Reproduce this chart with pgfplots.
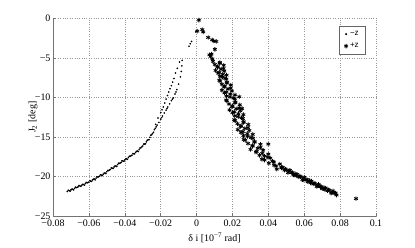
\documentclass[border=0pt]{standalone}
\usepackage{pgfplots}
\pgfplotsset{compat=1.18}
\usepackage{fontspec}
\setmainfont{Liberation Serif}
\newfontfamily\legfont{Liberation Sans}
\begin{document}
\begin{tikzpicture}
\begin{axis}[
  scale only axis,
  width=323bp, height=197.5bp,
  xmin=-0.08, xmax=0.1, ymin=-25, ymax=0,
  axis x line*=bottom, axis y line*=left,
  axis line style={black!55, line width=0.5pt},
  x axis line style={-}, y axis line style={-},
  tick style={black!55, line width=0.5pt},
  tick align=inside, major tick length=3bp,
  xtick={-0.08,-0.06,-0.04,-0.02,0,0.02,0.04,0.06,0.08,0.1},
  xticklabels={−0.08,−0.06,−0.04,−0.02,0,0.02,0.04,0.06,0.08,0.1},
  ytick={-25,-20,-15,-10,-5,0},
  yticklabels={−25,−20,−15,−10,−5,0},
  tick label style={font=\normalsize, black},
  yticklabel style={xshift=1bp},
  grid=major,
  major grid style={dotted, black!40, line width=0.5pt},
  every axis y label/.style={at={(axis description cs:-0.062,0.5)},rotate=90,anchor=center},
  every axis x label/.style={at={(axis description cs:0.5,-0.111)},anchor=center},
  ylabel={J\textsubscript{2} [deg]},
  xlabel={δ i [10\textsuperscript{−7} rad]},
  legend style={at={(rel axis cs:0.969,0.962)}, anchor=north east, draw=black!60, line width=0.7pt,
    font=\legfont\footnotesize, inner xsep=5bp, inner ysep=3bp, row sep=2bp, fill=white},
  legend cell align=left,
  legend image code/.code={\draw[#1] plot coordinates {(0.3cm,0cm)};},
  clip=false,
]
\addplot[only marks, mark=*, mark size=0.6pt, black] table {
x y
-0.072 -21.90
-0.071 -21.80
-0.070 -21.70
-0.069 -21.60
-0.068 -21.50
-0.067 -21.40
-0.066 -21.30
-0.065 -21.20
-0.064 -21.10
-0.063 -21.00
-0.062 -20.90
-0.061 -20.80
-0.060 -20.70
-0.059 -20.58
-0.058 -20.45
-0.057 -20.33
-0.056 -20.20
-0.055 -20.08
-0.054 -19.95
-0.053 -19.83
-0.052 -19.70
-0.051 -19.55
-0.050 -19.40
-0.049 -19.25
-0.048 -19.10
-0.047 -18.95
-0.046 -18.80
-0.045 -18.65
-0.044 -18.50
-0.043 -18.35
-0.042 -18.20
-0.041 -18.05
-0.040 -17.90
-0.039 -17.75
-0.038 -17.60
-0.037 -17.45
-0.036 -17.30
-0.035 -17.13
-0.034 -16.95
-0.033 -16.78
-0.032 -16.60
-0.031 -16.37
-0.030 -16.13
-0.029 -15.90
-0.028 -15.62
-0.027 -15.34
-0.026 -15.04
-0.025 -14.72
-0.024 -14.40
-0.023 -13.90
-0.022 -13.50
-0.021 -13.15
-0.020 -12.75
-0.019 -12.35
-0.018 -11.95
-0.017 -11.60
-0.016 -11.20
-0.015 -10.80
-0.014 -10.40
-0.013 -10.05
-0.012 -9.55
-0.011 -9.00
-0.010 -8.30
-0.009 -7.40
-0.0085 -6.70
-0.0082 -6.00
-0.0080 -5.30
-0.0225 -13.70
-0.0195 -12.55
-0.0165 -11.40
-0.0135 -10.20
-0.0115 -9.30
-0.0715 -21.73
-0.0705 -21.85
-0.0695 -21.60
-0.0685 -21.70
-0.0675 -21.35
-0.0665 -21.35
-0.0655 -21.13
-0.0645 -21.25
-0.0635 -21.00
-0.0625 -21.10
-0.0615 -20.75
-0.0605 -20.75
-0.0595 -20.52
-0.0585 -20.62
-0.0575 -20.34
-0.0565 -20.42
-0.0555 -20.04
-0.0545 -20.02
-0.0535 -19.77
-0.0525 -19.87
-0.0515 -19.58
-0.0505 -19.63
-0.0495 -19.23
-0.0485 -19.18
-0.0475 -18.91
-0.0465 -18.98
-0.0455 -18.68
-0.0445 -18.73
-0.0435 -18.33
-0.0425 -18.28
-0.0415 -18.01
-0.0405 -18.08
-0.0395 -17.78
-0.0385 -17.83
-0.0375 -17.43
-0.0365 -17.38
-0.0355 -17.10
-0.0345 -17.14
-0.0335 -16.82
-0.0325 -16.84
-0.0315 -16.39
-0.0305 -16.25
-0.0295 -15.90
-0.0285 -15.86
-0.0275 -15.43
-0.0265 -15.34
-0.0255 -14.78
-0.0245 -14.56
-0.0235 -14.08
-0.0228 -13.40
-0.0215 -12.60
-0.0200 -11.90
-0.0192 -11.55
-0.0185 -11.20
-0.0177 -10.70
-0.0170 -10.20
-0.0162 -9.75
-0.0155 -9.30
-0.0148 -8.90
-0.0140 -8.50
-0.0133 -8.05
-0.0126 -7.60
-0.0117 -6.90
-0.0107 -6.30
-0.0095 -5.50
-0.0042 -3.50
-0.0035 -3.20
-0.0028 -2.90
-0.0004 -1.70
};
\addlegendentry{−z}
\addplot[only marks, mark=asterisk, mark size=2.2pt, line width=0.8pt, black] table {
x y
0.0013 -0.20
0.0004 -1.60
0.0032 -1.40
0.0037 -1.70
0.0065 -2.40
0.0087 -2.70
0.0096 -2.85
0.0110 -2.90
0.0102 -3.90
0.0072 -4.60
0.0078 -4.80
0.0083 -4.50
0.0088 -5.10
0.0091 -5.42
0.0130 -5.57
0.0129 -5.67
0.0102 -5.82
0.0151 -5.92
0.0118 -6.07
0.0117 -6.17
0.0150 -6.32
0.0136 -6.42
0.0106 -6.57
0.0154 -6.67
0.0127 -6.82
0.0120 -6.92
0.0146 -7.07
0.0167 -7.17
0.0130 -7.32
0.0144 -7.42
0.0159 -7.57
0.0166 -7.67
0.0127 -7.82
0.0131 -7.92
0.0170 -8.07
0.0168 -8.17
0.0141 -8.32
0.0191 -8.42
0.0157 -8.57
0.0154 -8.67
0.0190 -8.82
0.0175 -8.92
0.0141 -9.07
0.0197 -9.17
0.0166 -9.32
0.0156 -9.42
0.0188 -9.57
0.0214 -9.67
0.0167 -9.82
0.0186 -9.92
0.0205 -10.07
0.0213 -10.17
0.0165 -10.32
0.0169 -10.42
0.0217 -10.57
0.0214 -10.67
0.0181 -10.82
0.0241 -10.92
0.0201 -11.07
0.0197 -11.17
0.0238 -11.32
0.0221 -11.42
0.0184 -11.57
0.0243 -11.67
0.0210 -11.82
0.0200 -11.92
0.0233 -12.07
0.0261 -12.17
0.0213 -12.32
0.0232 -12.42
0.0251 -12.57
0.0258 -12.67
0.0210 -12.82
0.0215 -12.92
0.0263 -13.07
0.0261 -13.17
0.0228 -13.32
0.0288 -13.42
0.0248 -13.57
0.0245 -13.67
0.0287 -13.82
0.0269 -13.92
0.0230 -14.07
0.0294 -14.17
0.0258 -14.32
0.0247 -14.42
0.0283 -14.57
0.0313 -14.67
0.0261 -14.82
0.0284 -14.92
0.0304 -15.07
0.0315 -15.17
0.0263 -15.32
0.0271 -15.42
0.0323 -15.57
0.0323 -15.67
0.0287 -15.82
0.0356 -15.92
0.0312 -16.07
0.0312 -16.17
0.0356 -16.32
0.0341 -16.42
0.0301 -16.57
0.0371 -16.67
0.0335 -16.82
0.0331 -16.92
0.0366 -17.07
0.0400 -17.17
0.0351 -17.32
0.0378 -17.42
0.0397 -17.57
0.0411 -17.67
0.0364 -17.82
0.0379 -17.92
0.0423 -18.07
0.0431 -18.17
0.0403 -18.32
0.0464 -18.42
0.0432 -18.57
0.0443 -18.67
0.0473 -18.82
0.0473 -18.92
0.0447 -19.07
0.0238 -9.90
0.0254 -11.40
0.0400 -15.90
0.048 -18.85
0.049 -19.20
0.050 -19.15
0.051 -19.51
0.052 -19.22
0.053 -19.53
0.054 -19.79
0.055 -19.65
0.056 -19.71
0.057 -20.07
0.058 -20.03
0.059 -20.39
0.060 -20.10
0.061 -20.41
0.062 -20.67
0.063 -20.53
0.064 -20.59
0.065 -20.95
0.066 -20.91
0.067 -21.27
0.068 -20.98
0.069 -21.29
0.070 -21.55
0.071 -21.40
0.072 -21.45
0.073 -21.80
0.074 -21.75
0.075 -22.10
0.076 -21.82
0.077 -22.13
0.078 -22.35
0.0495 -19.05
0.0515 -19.32
0.0535 -19.50
0.0555 -19.92
0.0575 -19.95
0.0595 -20.45
0.0615 -20.38
0.0635 -20.80
0.0655 -20.82
0.0675 -21.20
0.0695 -21.28
0.0715 -21.65
0.0735 -21.68
0.0755 -22.05
0.0775 -22.10
0.0889 -22.80
};
\addlegendentry{+z}
\end{axis}
\pgfresetboundingbox
\path ([xshift=-53bp,yshift=-32bp]current axis.south west) rectangle ([xshift=39bp,yshift=18.5bp]current axis.north east);
\end{tikzpicture}
\end{document}
